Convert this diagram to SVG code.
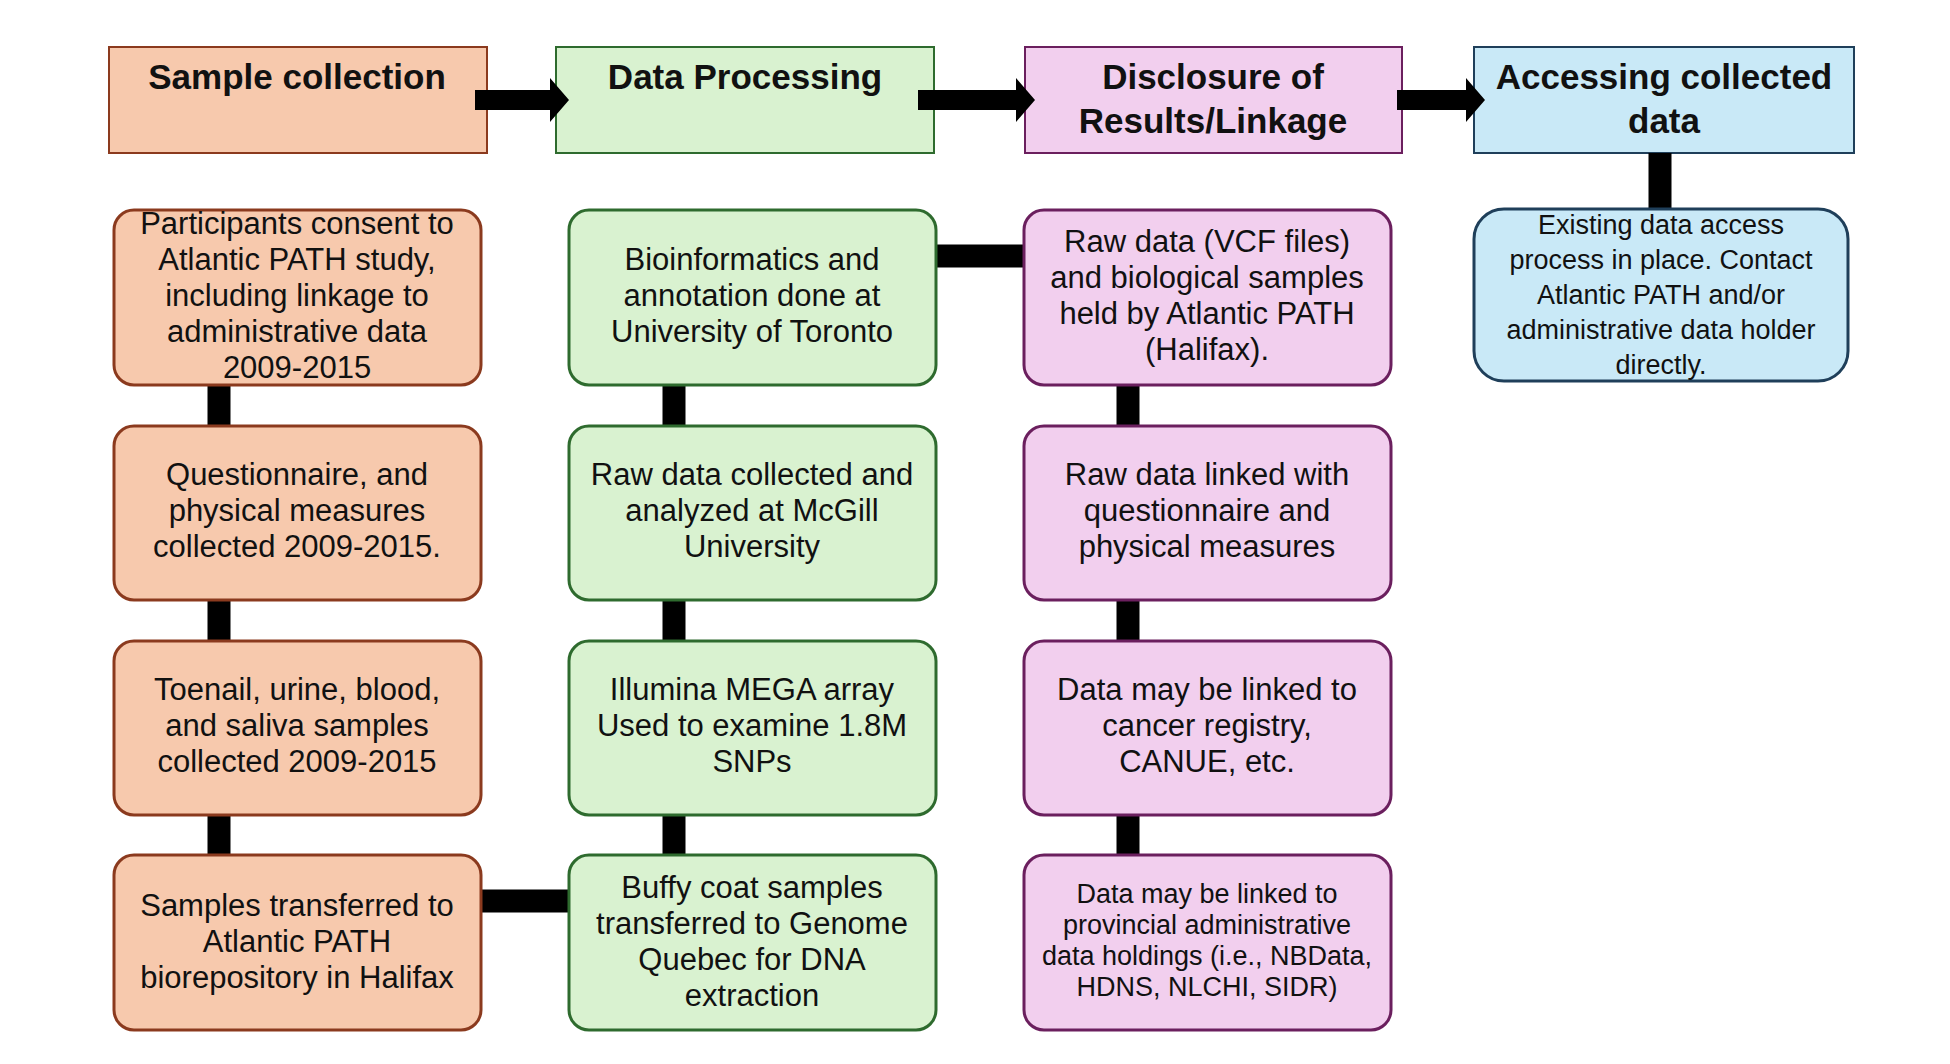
<svg xmlns="http://www.w3.org/2000/svg" width="1950" height="1064" viewBox="0 0 1950 1064">
<style>
text{font-family:"Liberation Sans Narrow","Liberation Sans",Arial,sans-serif;fill:#111;text-anchor:middle}
.h{font-weight:bold;font-size:35px}
.b{font-size:31px}
.s{font-size:27px}
.o{fill:#f7c9ad;stroke:#8b3a1e;stroke-width:2}
.g{fill:#d9f2d0;stroke:#2e6b2e;stroke-width:2}
.p{fill:#f2cfee;stroke:#6b1f5e;stroke-width:2}
.c{fill:#c9e9f7;stroke:#1f3f5a;stroke-width:2}
.r{stroke-width:3}
.ln{fill:none;stroke:#000;stroke-width:23}
</style>
<rect width="1950" height="1064" fill="#fff"/>
<g id="h1"><rect class="o" x="109" y="47" width="378" height="106"/><text class="h" x="297" y="89">Sample collection</text></g>
<g id="h2"><rect class="g" x="556" y="47" width="378" height="106"/><text class="h" x="745" y="89">Data Processing</text></g>
<g id="h3"><rect class="p" x="1025" y="47" width="377" height="106"/><text class="h" x="1213" y="89">Disclosure of</text><text class="h" x="1213" y="133">Results/Linkage</text></g>
<g id="h4"><rect class="c" x="1474" y="47" width="380" height="106"/><text class="h" x="1664" y="89">Accessing collected</text><text class="h" x="1664" y="133">data</text></g>
<g id="connectors">
<path class="ln" d="M219 385V426M219 600V641M219 815V855M674 385V426M674 600V641M674 815V855M1128 385V426M1128 600V641M1128 815V855M1660 153V209M936 256H1024M481 901H569"/>
<path d="M475 90H550V78L569 100L550 122V110H475Z"/>
<path d="M918 90H1016V78L1035 100L1016 122V110H918Z"/>
<path d="M1397 90H1466V78L1485 100L1466 122V110H1397Z"/>
</g>
<g id="o1"><rect class="o r" x="114" y="210" width="367" height="175" rx="20"/><text class="b"><tspan x="297" y="234">Participants consent to</tspan><tspan x="297" y="270">Atlantic PATH study,</tspan><tspan x="297" y="306">including linkage to</tspan><tspan x="297" y="342">administrative data</tspan><tspan x="297" y="378">2009-2015</tspan></text></g>
<g id="o2"><rect class="o r" x="114" y="426" width="367" height="174" rx="20"/><text class="b"><tspan x="297" y="485">Questionnaire, and</tspan><tspan x="297" y="521">physical measures</tspan><tspan x="297" y="557">collected 2009-2015.</tspan></text></g>
<g id="o3"><rect class="o r" x="114" y="641" width="367" height="174" rx="20"/><text class="b"><tspan x="297" y="700">Toenail, urine, blood,</tspan><tspan x="297" y="736">and saliva samples</tspan><tspan x="297" y="772">collected 2009-2015</tspan></text></g>
<g id="o4"><rect class="o r" x="114" y="855" width="367" height="175" rx="20"/><text class="b"><tspan x="297" y="916">Samples transferred to</tspan><tspan x="297" y="952">Atlantic PATH</tspan><tspan x="297" y="988">biorepository in Halifax</tspan></text></g>
<g id="g1"><rect class="g r" x="569" y="210" width="367" height="175" rx="20"/><text class="b"><tspan x="752" y="270">Bioinformatics and</tspan><tspan x="752" y="306">annotation done at</tspan><tspan x="752" y="342">University of Toronto</tspan></text></g>
<g id="g2"><rect class="g r" x="569" y="426" width="367" height="174" rx="20"/><text class="b"><tspan x="752" y="485">Raw data collected and</tspan><tspan x="752" y="521">analyzed at McGill</tspan><tspan x="752" y="557">University</tspan></text></g>
<g id="g3"><rect class="g r" x="569" y="641" width="367" height="174" rx="20"/><text class="b"><tspan x="752" y="700">Illumina MEGA array</tspan><tspan x="752" y="736">Used to examine 1.8M</tspan><tspan x="752" y="772">SNPs</tspan></text></g>
<g id="g4"><rect class="g r" x="569" y="855" width="367" height="175" rx="20"/><text class="b"><tspan x="752" y="898">Buffy coat samples</tspan><tspan x="752" y="934">transferred to Genome</tspan><tspan x="752" y="970">Quebec for DNA</tspan><tspan x="752" y="1006">extraction</tspan></text></g>
<g id="p1"><rect class="p r" x="1024" y="210" width="367" height="175" rx="20"/><text class="b"><tspan x="1207" y="252">Raw data (VCF files)</tspan><tspan x="1207" y="288">and biological samples</tspan><tspan x="1207" y="324">held by Atlantic PATH</tspan><tspan x="1207" y="360">(Halifax).</tspan></text></g>
<g id="p2"><rect class="p r" x="1024" y="426" width="367" height="174" rx="20"/><text class="b"><tspan x="1207" y="485">Raw data linked with</tspan><tspan x="1207" y="521">questionnaire and</tspan><tspan x="1207" y="557">physical measures</tspan></text></g>
<g id="p3"><rect class="p r" x="1024" y="641" width="367" height="174" rx="20"/><text class="b"><tspan x="1207" y="700">Data may be linked to</tspan><tspan x="1207" y="736">cancer registry,</tspan><tspan x="1207" y="772">CANUE, etc.</tspan></text></g>
<g id="p4"><rect class="p r" x="1024" y="855" width="367" height="175" rx="20"/><text class="s"><tspan x="1207" y="903">Data may be linked to</tspan><tspan x="1207" y="934">provincial administrative</tspan><tspan x="1207" y="965">data holdings (i.e., NBData,</tspan><tspan x="1207" y="996">HDNS, NLCHI, SIDR)</tspan></text></g>
<g id="c1"><rect class="c r" x="1474" y="209" width="374" height="172" rx="30"/><text class="s"><tspan x="1661" y="234">Existing data access</tspan><tspan x="1661" y="269">process in place. Contact</tspan><tspan x="1661" y="304">Atlantic PATH and/or</tspan><tspan x="1661" y="339">administrative data holder</tspan><tspan x="1661" y="374">directly.</tspan></text></g>
</svg>
